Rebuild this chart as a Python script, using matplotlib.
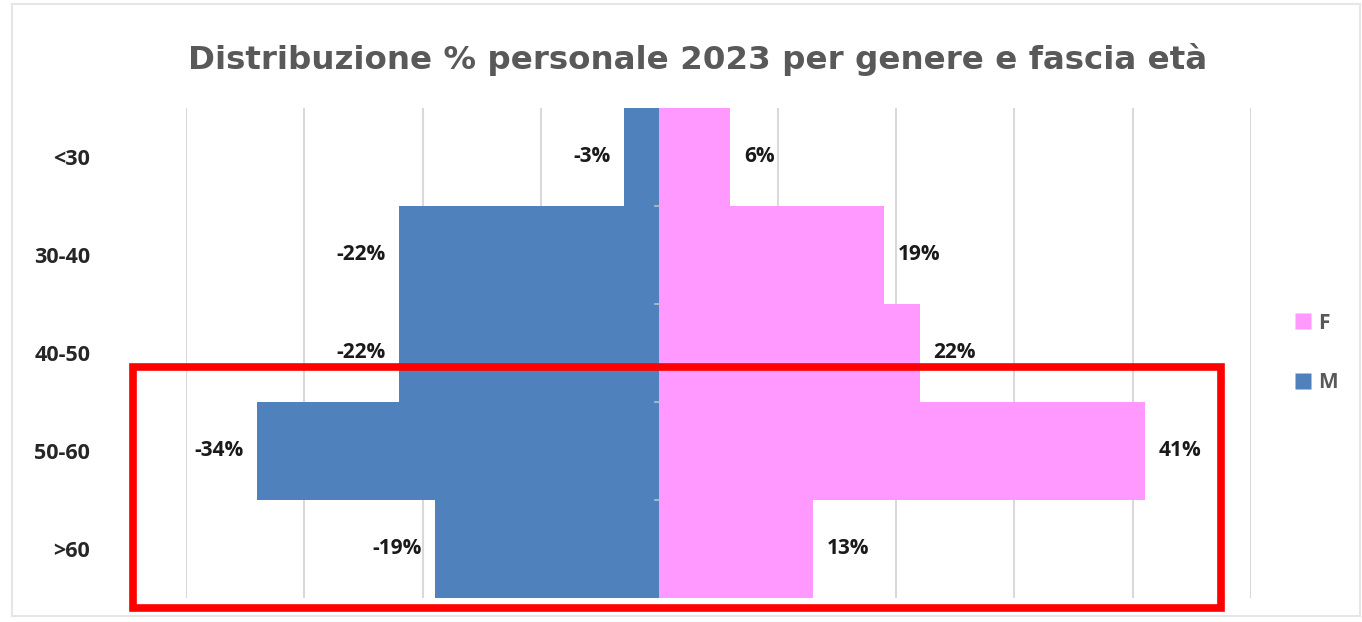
import matplotlib
matplotlib.use("Agg")
import matplotlib.pyplot as plt
from matplotlib.patches import Rectangle
from matplotlib.lines import Line2D

categories = ["<30", "30-40", "40-50", "50-60", ">60"]
male = [-3, -22, -22, -34, -19]
female = [6, 19, 22, 41, 13]
title = "Distribuzione % personale 2023 per genere e fascia età"

W, H = 1362, 622
fig = plt.figure(figsize=(W / 100, H / 100), dpi=100)
plt.rcParams['font.family'] = ['Open Sans', 'DejaVu Sans']

ax = fig.add_axes([186 / W, (H - 598) / H, (1251 - 186) / W, (598 - 108) / H])
ypos = list(range(len(categories)))
ax.barh(ypos, male, height=1.0, color="#4F81BD", label="M", zorder=3)
ax.barh(ypos, female, height=1.0, color="#FF99FF", label="F", zorder=3)
ax.set_xlim(-40, 50)
ax.set_ylim(len(categories) - 0.5, -0.5)
ax.set_xticks(range(-40, 51, 10))
ax.tick_params(axis="x", length=0, labelbottom=False)
ax.grid(axis="x", color="#D9D9D9", linewidth=1.5, zorder=0)
for s in ax.spines.values():
    s.set_visible(False)
ax.set_yticks(ypos)
ax.set_yticklabels(categories, fontsize=15.5, fontweight="bold", color="#262626")
ax.tick_params(axis="y", length=0, pad=69)
for lab in ax.get_yticklabels():
    lab.set_horizontalalignment("right")

# small tick marks at category boundaries on zero axis
for b in range(1, len(categories)):
    ax.plot([-0.35, 0.0], [b - 0.5, b - 0.5], color="#BFBFBF", lw=1.2, zorder=4)

for i, (m, f) in enumerate(zip(male, female)):
    ax.annotate(f"{m}%", (m, i), xytext=(-13, 0), textcoords="offset pixels",
                ha="right", va="center", fontsize=15, fontweight="bold", color="#1a1a1a")
    ax.annotate(f"{f}%", (f, i), xytext=(14, 0), textcoords="offset pixels",
                ha="left", va="center", fontsize=15, fontweight="bold", color="#1a1a1a")

fig.text(698 / W, 1 - 59 / H, title, ha="center", va="center",
         fontsize=23.4, fontweight="bold", color="#595959",
         family=["DejaVu Sans"])

handles = [Line2D([], [], marker="s", linestyle="none", markersize=12,
                  markerfacecolor="#FF99FF", markeredgecolor="none"),
           Line2D([], [], marker="s", linestyle="none", markersize=12,
                  markerfacecolor="#4F81BD", markeredgecolor="none")]
fig.legend(handles, ["F", "M"], loc="center left",
           bbox_to_anchor=(1274 / W, 1 - 353 / H), frameon=False,
           prop={"size": 15, "weight": "bold"}, labelcolor="#595959",
           handletextpad=0.2, labelspacing=1.85, handlelength=1.0)

# chart frame
fig.patches.append(Rectangle((12 / W, 6 / H), (W - 14) / W, (H - 10) / H,
                             transform=fig.transFigure, fill=False,
                             edgecolor="#E6E6E6", lw=1.5))
# red highlight rectangle
fig.patches.append(Rectangle((133 / W, 1 - 608 / H), (1221 - 133) / W, (608 - 367) / H,
                             transform=fig.transFigure, fill=False,
                             edgecolor="#FF0000", lw=5.5, zorder=10))

fig.savefig("out.png", dpi=100)
